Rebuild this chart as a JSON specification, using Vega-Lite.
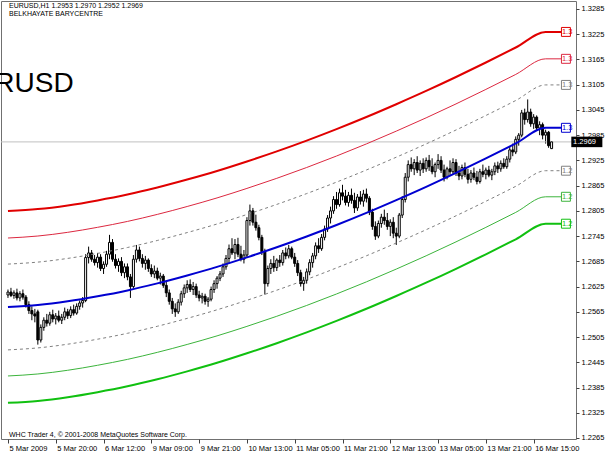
{
"$schema":"https://vega.github.io/schema/vega-lite/v6.json",
"width":575,"height":438,
"autosize":{"type":"none"},
"padding":{"left":1,"top":1,"right":29,"bottom":15},
"background":"white",
"config":{"view":{"stroke":"#707070","strokeWidth":1},"font":"Liberation Sans","axis":{"labelOverlap":false,"labelSeparation":0,"labelBound":false,"labelFlush":false,"grid":false,"domain":false}},
"datasets":{
"one":[{}],
"candles":[
{"i":0,"o":1.2605,"h":1.2618,"l":1.2598,"c":1.2612},
{"i":1,"o":1.2612,"h":1.2622,"l":1.2600,"c":1.2604},
{"i":2,"o":1.2604,"h":1.2616,"l":1.2596,"c":1.2610},
{"i":3,"o":1.2610,"h":1.2620,"l":1.2592,"c":1.2598},
{"i":4,"o":1.2598,"h":1.2614,"l":1.2590,"c":1.2608},
{"i":5,"o":1.2608,"h":1.2618,"l":1.2594,"c":1.2600},
{"i":6,"o":1.2600,"h":1.2605,"l":1.2575,"c":1.2582},
{"i":7,"o":1.2582,"h":1.2590,"l":1.2560,"c":1.2568},
{"i":8,"o":1.2568,"h":1.2578,"l":1.2545,"c":1.2560},
{"i":9,"o":1.2560,"h":1.2572,"l":1.2540,"c":1.2555},
{"i":10,"o":1.2565,"h":1.2570,"l":1.2487,"c":1.2498},
{"i":11,"o":1.2498,"h":1.2535,"l":1.2492,"c":1.2528},
{"i":12,"o":1.2528,"h":1.2552,"l":1.2520,"c":1.2545},
{"i":13,"o":1.2545,"h":1.2560,"l":1.2530,"c":1.2538},
{"i":14,"o":1.2538,"h":1.2565,"l":1.2532,"c":1.2558},
{"i":15,"o":1.2558,"h":1.2570,"l":1.2540,"c":1.2548},
{"i":16,"o":1.2548,"h":1.2562,"l":1.2535,"c":1.2555},
{"i":17,"o":1.2555,"h":1.2568,"l":1.2540,"c":1.2545},
{"i":18,"o":1.2545,"h":1.2560,"l":1.2536,"c":1.2552},
{"i":19,"o":1.2552,"h":1.2575,"l":1.2545,"c":1.2565},
{"i":20,"o":1.2565,"h":1.2572,"l":1.2548,"c":1.2556},
{"i":21,"o":1.2556,"h":1.2578,"l":1.2550,"c":1.2570},
{"i":22,"o":1.2570,"h":1.2582,"l":1.2556,"c":1.2562},
{"i":23,"o":1.2562,"h":1.2585,"l":1.2558,"c":1.2578},
{"i":24,"o":1.2578,"h":1.2592,"l":1.2570,"c":1.2586},
{"i":25,"o":1.2586,"h":1.2600,"l":1.2575,"c":1.2592},
{"i":26,"o":1.2592,"h":1.2702,"l":1.2588,"c":1.2694},
{"i":27,"o":1.2694,"h":1.2720,"l":1.2680,"c":1.2705},
{"i":28,"o":1.2705,"h":1.2712,"l":1.2684,"c":1.2690},
{"i":29,"o":1.2690,"h":1.2700,"l":1.2675,"c":1.2682},
{"i":30,"o":1.2682,"h":1.2705,"l":1.2670,"c":1.2695},
{"i":31,"o":1.2695,"h":1.2702,"l":1.2662,"c":1.2668},
{"i":32,"o":1.2668,"h":1.2685,"l":1.2655,"c":1.2678},
{"i":33,"o":1.2678,"h":1.2710,"l":1.2672,"c":1.2702},
{"i":34,"o":1.2702,"h":1.2748,"l":1.2690,"c":1.2730},
{"i":35,"o":1.2730,"h":1.2738,"l":1.2684,"c":1.2690},
{"i":36,"o":1.2690,"h":1.2702,"l":1.2668,"c":1.2675},
{"i":37,"o":1.2675,"h":1.2692,"l":1.2660,"c":1.2685},
{"i":38,"o":1.2685,"h":1.2695,"l":1.2650,"c":1.2658},
{"i":39,"o":1.2658,"h":1.2680,"l":1.2645,"c":1.2672},
{"i":40,"o":1.2672,"h":1.2680,"l":1.2640,"c":1.2648},
{"i":41,"o":1.2648,"h":1.2655,"l":1.2598,"c":1.2625},
{"i":42,"o":1.2625,"h":1.2700,"l":1.2620,"c":1.2690},
{"i":43,"o":1.2690,"h":1.2724,"l":1.2682,"c":1.2712},
{"i":44,"o":1.2712,"h":1.2720,"l":1.2685,"c":1.2692},
{"i":45,"o":1.2692,"h":1.2702,"l":1.2670,"c":1.2680},
{"i":46,"o":1.2680,"h":1.2698,"l":1.2665,"c":1.2688},
{"i":47,"o":1.2688,"h":1.2692,"l":1.2660,"c":1.2668},
{"i":48,"o":1.2668,"h":1.2678,"l":1.2648,"c":1.2655},
{"i":49,"o":1.2655,"h":1.2675,"l":1.2645,"c":1.2662},
{"i":50,"o":1.2662,"h":1.2670,"l":1.2640,"c":1.2645},
{"i":51,"o":1.2645,"h":1.2658,"l":1.2630,"c":1.2650},
{"i":52,"o":1.2650,"h":1.2655,"l":1.2622,"c":1.2628},
{"i":53,"o":1.2628,"h":1.2640,"l":1.2600,"c":1.2610},
{"i":54,"o":1.2610,"h":1.2618,"l":1.2582,"c":1.2590},
{"i":55,"o":1.2590,"h":1.2598,"l":1.2560,"c":1.2572},
{"i":56,"o":1.2572,"h":1.2585,"l":1.2553,"c":1.2565},
{"i":57,"o":1.2565,"h":1.2595,"l":1.2560,"c":1.2588},
{"i":58,"o":1.2588,"h":1.2615,"l":1.2580,"c":1.2608},
{"i":59,"o":1.2608,"h":1.2630,"l":1.2598,"c":1.2622},
{"i":60,"o":1.2622,"h":1.2640,"l":1.2610,"c":1.2630},
{"i":61,"o":1.2630,"h":1.2642,"l":1.2612,"c":1.2618},
{"i":62,"o":1.2618,"h":1.2636,"l":1.2605,"c":1.2625},
{"i":63,"o":1.2625,"h":1.2632,"l":1.2598,"c":1.2605},
{"i":64,"o":1.2605,"h":1.2615,"l":1.2590,"c":1.2598},
{"i":65,"o":1.2598,"h":1.2610,"l":1.2585,"c":1.2602},
{"i":66,"o":1.2602,"h":1.2608,"l":1.2582,"c":1.2590},
{"i":67,"o":1.2590,"h":1.2600,"l":1.2577,"c":1.2595},
{"i":68,"o":1.2595,"h":1.2625,"l":1.2590,"c":1.2618},
{"i":69,"o":1.2618,"h":1.2640,"l":1.2610,"c":1.2632},
{"i":70,"o":1.2632,"h":1.2650,"l":1.2620,"c":1.2645},
{"i":71,"o":1.2645,"h":1.2662,"l":1.2638,"c":1.2655},
{"i":72,"o":1.2655,"h":1.2680,"l":1.2648,"c":1.2672},
{"i":73,"o":1.2672,"h":1.2700,"l":1.2665,"c":1.2692},
{"i":74,"o":1.2692,"h":1.2725,"l":1.2680,"c":1.2715},
{"i":75,"o":1.2715,"h":1.2740,"l":1.2700,"c":1.2705},
{"i":76,"o":1.2705,"h":1.2738,"l":1.2690,"c":1.2725},
{"i":77,"o":1.2725,"h":1.2741,"l":1.2695,"c":1.2702},
{"i":78,"o":1.2702,"h":1.2722,"l":1.2685,"c":1.2690},
{"i":79,"o":1.2690,"h":1.2712,"l":1.2680,"c":1.2700},
{"i":80,"o":1.2700,"h":1.2790,"l":1.2695,"c":1.2782},
{"i":81,"o":1.2782,"h":1.2820,"l":1.2770,"c":1.2805},
{"i":82,"o":1.2805,"h":1.2812,"l":1.2770,"c":1.2778},
{"i":83,"o":1.2778,"h":1.2796,"l":1.2758,"c":1.2765},
{"i":84,"o":1.2765,"h":1.2772,"l":1.2735,"c":1.2742},
{"i":85,"o":1.2742,"h":1.2748,"l":1.2700,"c":1.2708},
{"i":86,"o":1.2708,"h":1.2715,"l":1.2606,"c":1.2632},
{"i":87,"o":1.2632,"h":1.2675,"l":1.2625,"c":1.2668},
{"i":88,"o":1.2668,"h":1.2690,"l":1.2655,"c":1.2680},
{"i":89,"o":1.2680,"h":1.2698,"l":1.2660,"c":1.2670},
{"i":90,"o":1.2670,"h":1.2692,"l":1.2662,"c":1.2688},
{"i":91,"o":1.2688,"h":1.2700,"l":1.2672,"c":1.2682},
{"i":92,"o":1.2682,"h":1.2712,"l":1.2675,"c":1.2705},
{"i":93,"o":1.2705,"h":1.2718,"l":1.2690,"c":1.2698},
{"i":94,"o":1.2698,"h":1.2724,"l":1.2692,"c":1.2715},
{"i":95,"o":1.2715,"h":1.2720,"l":1.2690,"c":1.2695},
{"i":96,"o":1.2695,"h":1.2705,"l":1.2672,"c":1.2680},
{"i":97,"o":1.2680,"h":1.2688,"l":1.2650,"c":1.2658},
{"i":98,"o":1.2658,"h":1.2665,"l":1.2625,"c":1.2632},
{"i":99,"o":1.2632,"h":1.2648,"l":1.2615,"c":1.2640},
{"i":100,"o":1.2640,"h":1.2668,"l":1.2632,"c":1.2660},
{"i":101,"o":1.2660,"h":1.2690,"l":1.2652,"c":1.2682},
{"i":102,"o":1.2682,"h":1.2705,"l":1.2670,"c":1.2698},
{"i":103,"o":1.2698,"h":1.2730,"l":1.2690,"c":1.2722},
{"i":104,"o":1.2722,"h":1.2740,"l":1.2705,"c":1.2715},
{"i":105,"o":1.2715,"h":1.2750,"l":1.2710,"c":1.2742},
{"i":106,"o":1.2742,"h":1.2770,"l":1.2735,"c":1.2762},
{"i":107,"o":1.2762,"h":1.2795,"l":1.2755,"c":1.2788},
{"i":108,"o":1.2788,"h":1.2815,"l":1.2775,"c":1.2805},
{"i":109,"o":1.2805,"h":1.2840,"l":1.2798,"c":1.2832},
{"i":110,"o":1.2832,"h":1.2850,"l":1.2810,"c":1.2820},
{"i":111,"o":1.2820,"h":1.2858,"l":1.2815,"c":1.2848},
{"i":112,"o":1.2848,"h":1.2867,"l":1.2830,"c":1.2840},
{"i":113,"o":1.2840,"h":1.2855,"l":1.2818,"c":1.2825},
{"i":114,"o":1.2825,"h":1.2850,"l":1.2815,"c":1.2842},
{"i":115,"o":1.2842,"h":1.2858,"l":1.2822,"c":1.2830},
{"i":116,"o":1.2830,"h":1.2848,"l":1.2800,"c":1.2812},
{"i":117,"o":1.2812,"h":1.2845,"l":1.2805,"c":1.2838},
{"i":118,"o":1.2838,"h":1.2852,"l":1.2820,"c":1.2828},
{"i":119,"o":1.2828,"h":1.2855,"l":1.2815,"c":1.2845},
{"i":120,"o":1.2845,"h":1.2858,"l":1.2825,"c":1.2835},
{"i":121,"o":1.2835,"h":1.2840,"l":1.2795,"c":1.2802},
{"i":122,"o":1.2802,"h":1.2810,"l":1.2760,"c":1.2768},
{"i":123,"o":1.2768,"h":1.2780,"l":1.2736,"c":1.2745},
{"i":124,"o":1.2745,"h":1.2782,"l":1.2740,"c":1.2775},
{"i":125,"o":1.2775,"h":1.2798,"l":1.2765,"c":1.2790},
{"i":126,"o":1.2790,"h":1.2808,"l":1.2772,"c":1.2782},
{"i":127,"o":1.2782,"h":1.2800,"l":1.2760,"c":1.2768},
{"i":128,"o":1.2768,"h":1.2785,"l":1.2745,"c":1.2778},
{"i":129,"o":1.2778,"h":1.2790,"l":1.2740,"c":1.2752},
{"i":130,"o":1.2752,"h":1.2765,"l":1.2724,"c":1.2745},
{"i":131,"o":1.2745,"h":1.2800,"l":1.2740,"c":1.2795},
{"i":132,"o":1.2795,"h":1.2840,"l":1.2788,"c":1.2832},
{"i":133,"o":1.2832,"h":1.2895,"l":1.2825,"c":1.2885},
{"i":134,"o":1.2885,"h":1.2925,"l":1.2875,"c":1.2915},
{"i":135,"o":1.2915,"h":1.2932,"l":1.2898,"c":1.2905},
{"i":136,"o":1.2905,"h":1.2928,"l":1.2890,"c":1.2920},
{"i":137,"o":1.2920,"h":1.2935,"l":1.2895,"c":1.2902},
{"i":138,"o":1.2902,"h":1.2925,"l":1.2888,"c":1.2918},
{"i":139,"o":1.2918,"h":1.2930,"l":1.2895,"c":1.2905},
{"i":140,"o":1.2905,"h":1.2932,"l":1.2898,"c":1.2925},
{"i":141,"o":1.2925,"h":1.2938,"l":1.2900,"c":1.2910},
{"i":142,"o":1.2910,"h":1.2930,"l":1.2892,"c":1.2898},
{"i":143,"o":1.2898,"h":1.2920,"l":1.2885,"c":1.2915},
{"i":144,"o":1.2915,"h":1.2940,"l":1.2905,"c":1.2925},
{"i":145,"o":1.2925,"h":1.2935,"l":1.2895,"c":1.2902},
{"i":146,"o":1.2902,"h":1.2915,"l":1.2875,"c":1.2885},
{"i":147,"o":1.2885,"h":1.2910,"l":1.2880,"c":1.2905},
{"i":148,"o":1.2905,"h":1.2925,"l":1.2890,"c":1.2898},
{"i":149,"o":1.2898,"h":1.2930,"l":1.2892,"c":1.2920},
{"i":150,"o":1.2920,"h":1.2928,"l":1.2888,"c":1.2895},
{"i":151,"o":1.2895,"h":1.2912,"l":1.2878,"c":1.2888},
{"i":152,"o":1.2888,"h":1.2915,"l":1.2880,"c":1.2908},
{"i":153,"o":1.2908,"h":1.2920,"l":1.2885,"c":1.2892},
{"i":154,"o":1.2892,"h":1.2905,"l":1.2870,"c":1.2880},
{"i":155,"o":1.2880,"h":1.2902,"l":1.2872,"c":1.2895},
{"i":156,"o":1.2895,"h":1.2908,"l":1.2878,"c":1.2885},
{"i":157,"o":1.2885,"h":1.2900,"l":1.2868,"c":1.2875},
{"i":158,"o":1.2875,"h":1.2905,"l":1.2870,"c":1.2898},
{"i":159,"o":1.2898,"h":1.2915,"l":1.2885,"c":1.2892},
{"i":160,"o":1.2892,"h":1.2908,"l":1.2880,"c":1.2902},
{"i":161,"o":1.2902,"h":1.2912,"l":1.2885,"c":1.2890},
{"i":162,"o":1.2890,"h":1.2905,"l":1.2878,"c":1.2898},
{"i":163,"o":1.2898,"h":1.2920,"l":1.2890,"c":1.2912},
{"i":164,"o":1.2912,"h":1.2922,"l":1.2895,"c":1.2905},
{"i":165,"o":1.2905,"h":1.2925,"l":1.2898,"c":1.2918},
{"i":166,"o":1.2918,"h":1.2930,"l":1.2905,"c":1.2910},
{"i":167,"o":1.2910,"h":1.2935,"l":1.2905,"c":1.2928},
{"i":168,"o":1.2928,"h":1.2958,"l":1.2920,"c":1.2950},
{"i":169,"o":1.2950,"h":1.2965,"l":1.2935,"c":1.2945},
{"i":170,"o":1.2945,"h":1.2982,"l":1.2940,"c":1.2975},
{"i":171,"o":1.2975,"h":1.2990,"l":1.2960,"c":1.2985},
{"i":172,"o":1.2985,"h":1.3045,"l":1.2980,"c":1.3038},
{"i":173,"o":1.3038,"h":1.3048,"l":1.3010,"c":1.3022},
{"i":174,"o":1.3022,"h":1.3070,"l":1.3015,"c":1.3040},
{"i":175,"o":1.3040,"h":1.3048,"l":1.3005,"c":1.3012},
{"i":176,"o":1.3012,"h":1.3035,"l":1.3000,"c":1.3028},
{"i":177,"o":1.3028,"h":1.3032,"l":1.2995,"c":1.3002},
{"i":178,"o":1.3002,"h":1.3018,"l":1.2985,"c":1.3010},
{"i":179,"o":1.3010,"h":1.3015,"l":1.2975,"c":1.2985},
{"i":180,"o":1.2985,"h":1.2998,"l":1.2965,"c":1.2992},
{"i":181,"o":1.2992,"h":1.2995,"l":1.2955,"c":1.2960},
{"i":182,"o":1.2953,"h":1.2970,"l":1.2952,"c":1.2969}
],
"bands":[
{"i":0,"r2":1.28045,"r1":1.27405,"u":1.26785,"c":1.25765,"d":1.24745,"g1":1.24125,"g2":1.23485},
{"i":10,"r2":1.28092,"r1":1.27452,"u":1.26832,"c":1.25812,"d":1.24792,"g1":1.24172,"g2":1.23532},
{"i":20,"r2":1.28180,"r1":1.27540,"u":1.26920,"c":1.25900,"d":1.24880,"g1":1.24260,"g2":1.23620},
{"i":30,"r2":1.28299,"r1":1.27659,"u":1.27039,"c":1.26019,"d":1.24999,"g1":1.24379,"g2":1.23739},
{"i":40,"r2":1.28439,"r1":1.27799,"u":1.27179,"c":1.26159,"d":1.25139,"g1":1.24519,"g2":1.23879},
{"i":50,"r2":1.28606,"r1":1.27966,"u":1.27346,"c":1.26326,"d":1.25306,"g1":1.24686,"g2":1.24046},
{"i":60,"r2":1.28794,"r1":1.28154,"u":1.27534,"c":1.26514,"d":1.25494,"g1":1.24874,"g2":1.24234},
{"i":70,"r2":1.28998,"r1":1.28358,"u":1.27738,"c":1.26718,"d":1.25698,"g1":1.25078,"g2":1.24438},
{"i":80,"r2":1.29224,"r1":1.28584,"u":1.27964,"c":1.26944,"d":1.25924,"g1":1.25304,"g2":1.24664},
{"i":90,"r2":1.29464,"r1":1.28824,"u":1.28204,"c":1.27184,"d":1.26164,"g1":1.25544,"g2":1.24904},
{"i":100,"r2":1.29721,"r1":1.29081,"u":1.28461,"c":1.27441,"d":1.26421,"g1":1.25801,"g2":1.25161},
{"i":110,"r2":1.29994,"r1":1.29354,"u":1.28734,"c":1.27714,"d":1.26694,"g1":1.26074,"g2":1.25434},
{"i":120,"r2":1.30282,"r1":1.29642,"u":1.29022,"c":1.28002,"d":1.26982,"g1":1.26362,"g2":1.25722},
{"i":130,"r2":1.30586,"r1":1.29946,"u":1.29326,"c":1.28306,"d":1.27286,"g1":1.26666,"g2":1.26026},
{"i":140,"r2":1.30902,"r1":1.30262,"u":1.29642,"c":1.28622,"d":1.27602,"g1":1.26982,"g2":1.26342},
{"i":150,"r2":1.31233,"r1":1.30593,"u":1.29973,"c":1.28953,"d":1.27933,"g1":1.27313,"g2":1.26673},
{"i":160,"r2":1.31578,"r1":1.30938,"u":1.30318,"c":1.29298,"d":1.28278,"g1":1.27658,"g2":1.27018},
{"i":170,"r2":1.31934,"r1":1.31294,"u":1.30674,"c":1.29654,"d":1.28634,"g1":1.28014,"g2":1.27374},
{"i":180,"r2":1.32305,"r1":1.31665,"u":1.31045,"c":1.30025,"d":1.29005,"g1":1.28385,"g2":1.27745},
{"i":185.2,"r2":1.32305,"r1":1.31665,"u":1.31045,"c":1.30025,"d":1.29005,"g1":1.28385,"g2":1.27745}
],
"boxes":[
{"b":"r2","p":1.32305,"t":"1.3"},
{"b":"r1","p":1.31665,"t":"1.3"},
{"b":"u","p":1.31045,"t":"1.3"},
{"b":"c","p":1.30025,"t":"1.3"},
{"b":"d","p":1.29005,"t":"1.2"},
{"b":"g1","p":1.28385,"t":"1.2"},
{"b":"g2","p":1.27745,"t":"1.2"}
]
},
"layer":[
{"data":{"name":"candles"},"mark":{"type":"rule","color":"#000000","strokeWidth":1},
 "encoding":{
  "x":{"field":"i","type":"quantitative","scale":{"domain":[-0.66,188.5],"zero":false,"nice":false},
   "axis":{"values":[0,16,32,48,64,80,96,112,128,144,160,176],"tickCount":40,
   "labelExpr":"['5 Mar 2009','5 Mar 20:00','6 Mar 12:00','9 Mar 09:00','9 Mar 21:00','10 Mar 13:00','11 Mar 05:00','11 Mar 21:00','12 Mar 13:00','13 Mar 05:00','13 Mar 21:00','16 Mar 15:00'][round(datum.value/16)]",
   "title":null,"domain":false,"grid":false,"tickSize":4,"tickColor":"#404040","labelAlign":"left","labelPadding":1,"labelOffset":1,"labelFontSize":7.5,"labelColor":"#000000","labelFont":"Liberation Sans","labelOverlap":false,"labelBound":false,"labelFlush":false}},
  "y":{"field":"l","type":"quantitative","scale":{"domain":[1.22626,1.3304],"zero":false,"nice":false},
   "axis":{"orient":"right","values":[1.2265,1.2325,1.2385,1.2445,1.2505,1.2565,1.2625,1.2685,1.2745,1.2805,1.2865,1.2925,1.2985,1.3045,1.3105,1.3165,1.3225,1.3285],"tickCount":40,
   "format":".4f","title":null,"domain":false,"grid":false,"tickSize":3,"tickColor":"#404040","labelPadding":2,"labelFontSize":7.5,"labelColor":"#000000","labelFont":"Liberation Sans","labelOverlap":false,"labelSeparation":0,"labelBound":false,"labelFlush":false}},
  "y2":{"field":"h"}}},
{"data":{"name":"one"},"mark":{"type":"rule","color":"#c0c0c0","strokeWidth":1},
 "encoding":{"y":{"datum":1.2969,"type":"quantitative"}}},
{"data":{"name":"candles"},"mark":{"type":"bar","size":2,"stroke":"#000000","strokeWidth":1},
 "encoding":{
  "x":{"field":"i","type":"quantitative","title":null},
  "y":{"field":"o","type":"quantitative","title":null},
  "y2":{"field":"c"},
  "fill":{"condition":{"test":"datum.c >= datum.o","value":"#ffffff"},"value":"#000000"}}},
{"data":{"name":"bands"},
 "transform":[{"fold":["r2","r1","u","c","d","g1","g2"],"as":["band","p"]},{"filter":{"field":"band","oneOf":["u","d"]}}],
 "mark":{"type":"line","strokeWidth":1,"strokeDash":[3,3],"interpolate":"monotone"},
 "encoding":{"x":{"field":"i","type":"quantitative","title":null},"y":{"field":"p","type":"quantitative","title":null},
  "color":{"field":"band","type":"nominal","legend":null,"scale":{"domain":["r2","r1","u","c","d","g1","g2"],"range":["#e00000","#dc2840","#808080","#0000d0","#808080","#3cb43c","#10c010"]}}}},
{"data":{"name":"bands"},
 "transform":[{"fold":["r2","r1","u","c","d","g1","g2"],"as":["band","p"]},{"filter":{"field":"band","oneOf":["r1","g1"]}}],
 "mark":{"type":"line","strokeWidth":1,"interpolate":"monotone"},
 "encoding":{"x":{"field":"i","type":"quantitative","title":null},"y":{"field":"p","type":"quantitative","title":null},
  "color":{"field":"band","type":"nominal","legend":null,"scale":{"domain":["r2","r1","u","c","d","g1","g2"],"range":["#e00000","#dc2840","#808080","#0000d0","#808080","#3cb43c","#10c010"]}}}},
{"data":{"name":"bands"},
 "transform":[{"fold":["r2","r1","u","c","d","g1","g2"],"as":["band","p"]},{"filter":{"field":"band","oneOf":["r2","c","g2"]}}],
 "mark":{"type":"line","strokeWidth":2,"interpolate":"monotone"},
 "encoding":{"x":{"field":"i","type":"quantitative","title":null},"y":{"field":"p","type":"quantitative","title":null},
  "color":{"field":"band","type":"nominal","legend":null,"scale":{"domain":["r2","r1","u","c","d","g1","g2"],"range":["#e00000","#dc2840","#808080","#0000d0","#808080","#3cb43c","#10c010"]}}}},
{"data":{"name":"boxes"},
 "mark":{"type":"point","shape":"square","size":80,"fill":"#ffffff","filled":false,"opacity":1,"strokeWidth":1},
 "encoding":{"x":{"datum":186.8,"type":"quantitative"},"y":{"field":"p","type":"quantitative","title":null},
  "stroke":{"field":"b","type":"nominal","legend":null,"scale":{"domain":["r2","r1","u","c","d","g1","g2"],"range":["#e00000","#dc2840","#808080","#0000d0","#808080","#3cb43c","#10c010"]}}}},
{"data":{"name":"boxes"},
 "mark":{"type":"text","align":"left","baseline":"middle","fontSize":7.5,"font":"Liberation Sans"},
 "encoding":{"x":{"datum":185.45,"type":"quantitative"},"y":{"field":"p","type":"quantitative","title":null},"text":{"field":"t"},
  "color":{"field":"b","type":"nominal","legend":null,"scale":{"domain":["r2","r1","u","c","d","g1","g2"],"range":["#e00000","#dc2840","#808080","#0000d0","#808080","#3cb43c","#10c010"]}}}},
{"data":{"name":"one"},"mark":{"type":"rect","color":"#000000"},
 "encoding":{"x":{"datum":188.6,"type":"quantitative"},"x2":{"datum":199},"y":{"datum":1.29565,"type":"quantitative"},"y2":{"datum":1.29815}}},
{"data":{"name":"one"},"mark":{"type":"text","align":"left","baseline":"middle","fontSize":7.5,"font":"Liberation Sans","color":"#ffffff"},
 "encoding":{"x":{"datum":189.2,"type":"quantitative"},"y":{"datum":1.2969,"type":"quantitative"},"text":{"value":"1.2969"}}},
{"data":{"name":"one"},"mark":{"type":"text","align":"left","baseline":"middle","fontSize":7,"font":"Liberation Sans","color":"#000000"},
 "encoding":{"x":{"datum":0.35,"type":"quantitative"},"y":{"datum":1.3292,"type":"quantitative"},"text":{"value":"EURUSD,H1  1.2953 1.2970 1.2952 1.2969"}}},
{"data":{"name":"one"},"mark":{"type":"text","align":"left","baseline":"middle","fontSize":7,"font":"Liberation Sans","color":"#000000"},
 "encoding":{"x":{"datum":0.35,"type":"quantitative"},"y":{"datum":1.3273,"type":"quantitative"},"text":{"value":"BELKHAYATE BARYCENTRE"}}},
{"data":{"name":"one"},"mark":{"type":"text","align":"left","baseline":"middle","fontSize":7,"font":"Liberation Sans","color":"#000000"},
 "encoding":{"x":{"datum":0.35,"type":"quantitative"},"y":{"datum":1.22721,"type":"quantitative"},"text":{"value":"WHC Trader 4, © 2001-2008 MetaQuotes Software Corp."}}},
{"data":{"name":"one"},"mark":{"type":"text","align":"right","baseline":"alphabetic","fontSize":28,"font":"Liberation Sans","color":"#000000"},
 "encoding":{"x":{"datum":22,"type":"quantitative"},"y":{"datum":1.30876,"type":"quantitative"},"text":{"value":"EURUSD"}}}
]
}
